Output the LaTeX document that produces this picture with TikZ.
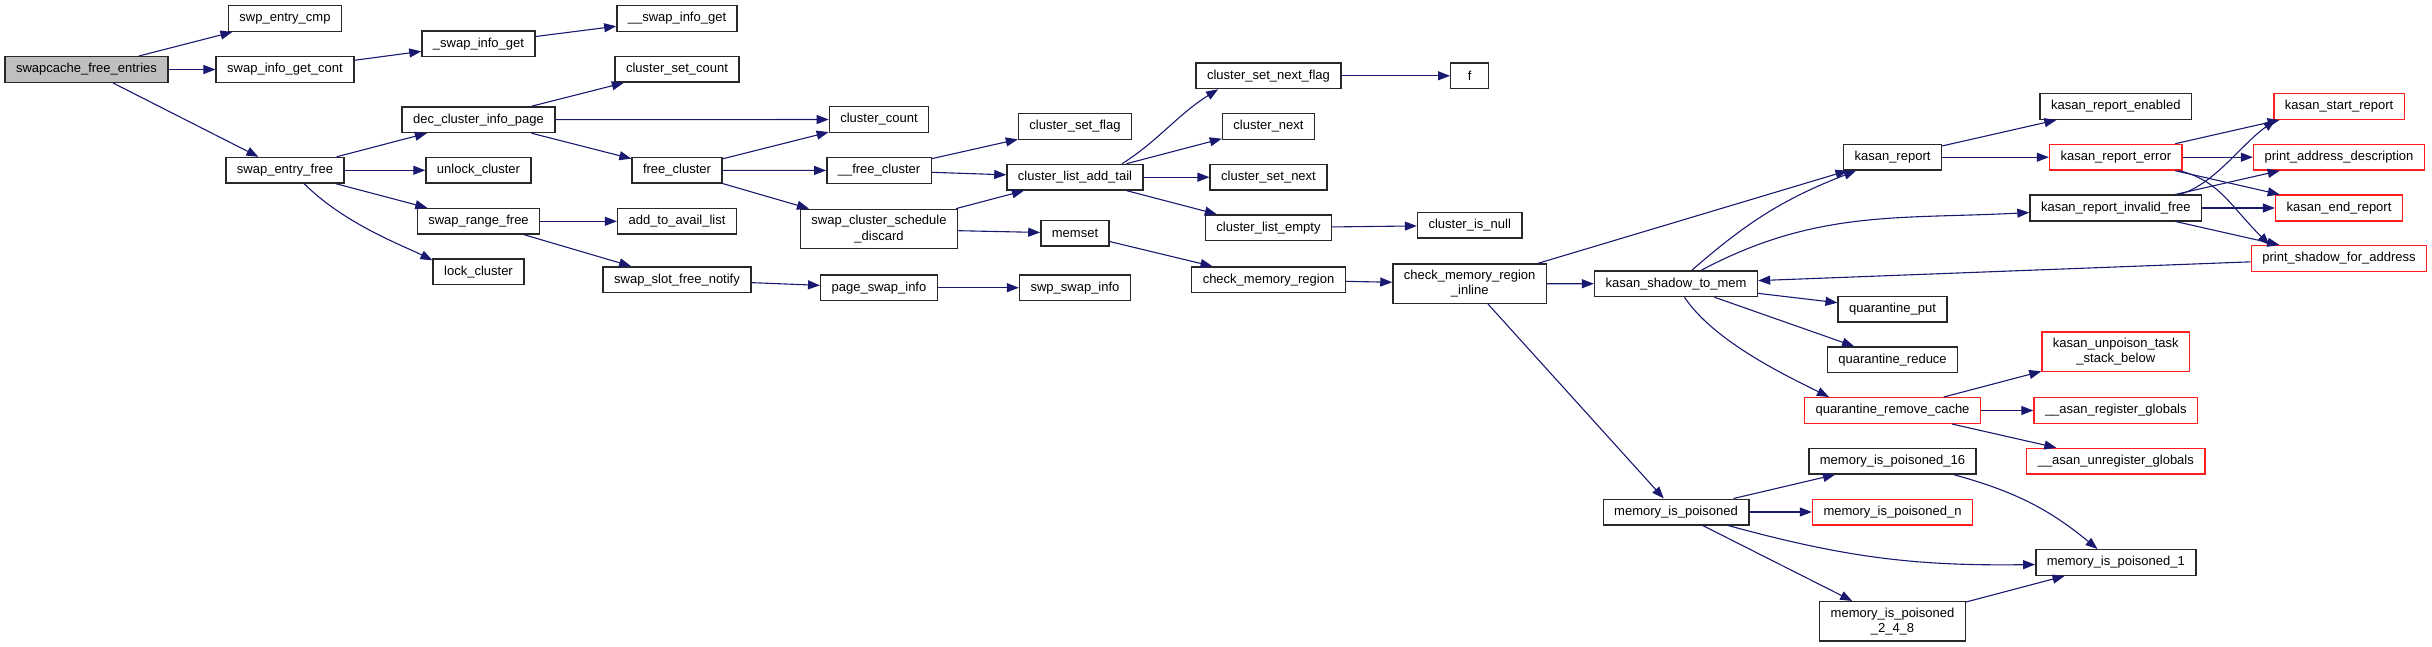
\documentclass[tikz,border=0pt]{standalone}
\usepackage{fontspec}
\setmainfont{Liberation Sans}
\usetikzlibrary{arrows.meta}
\definecolor{midblue}{RGB}{25,25,112}
\definecolor{boxline}{RGB}{40,40,40}
\definecolor{hotred}{RGB}{255,30,30}
\definecolor{rootgray}{RGB}{191,191,191}

\begin{document}
\begin{tikzpicture}[x=1pt,y=1pt,font=\fontsize{13}{15.3}\selectfont,>={Triangle[length=12pt,width=9pt]},
    fn/.style={draw=boxline,line width=1.4pt,fill=white,minimum height=25.6pt,minimum width=38pt,
      inner xsep=11pt,inner ysep=6pt,align=center},
    hot/.style={fn,draw=hotred},
    root/.style={fn,fill=rootgray},
    call/.style={->,midblue,line width=1.1pt}]
            \useasboundingbox (0,0) rectangle (2432,-647);
            \node[root] (root) at (86.5,-69.5) {swapcache\_free\_entries};
            \node[fn] (entrycmp) at (285,-18.5) {swp\_entry\_cmp};
            \node[fn] (infocont) at (285,-69.5) {swap\_info\_get\_cont};
            \node[fn] (entryfree) at (285,-170.3) {swap\_entry\_free};
            \node[fn] (infoget) at (478.5,-43.8) {\_swap\_info\_get};
            \node[fn] (decinfo) at (478.5,-119.7) {dec\_cluster\_info\_page};
            \node[fn] (unlock) at (478.5,-170.3) {unlock\_cluster};
            \node[fn] (rangefree) at (478.5,-221.3) {swap\_range\_free};
            \node[fn] (lock) at (478.5,-271.8) {lock\_cluster};
            \node[fn] (infoget2) at (677,-18.5) {\_\_swap\_info\_get};
            \node[fn] (setcount) at (677,-69.3) {cluster\_set\_count};
            \node[fn] (freecl) at (677,-170.3) {free\_cluster};
            \node[fn] (availlist) at (677,-221.3) {add\_to\_avail\_list};
            \node[fn] (slotnotify) at (677,-279.7) {swap\_slot\_free\_notify};
            \node[fn] (count) at (879,-119.5) {cluster\_count};
            \node[fn] (freecl2) at (879,-170.5) {\_\_free\_cluster};
            \node[fn] (discard) at (879,-229) {swap\_cluster\_schedule\\\_discard};
            \node[fn] (pageinfo) at (879,-287.7) {page\_swap\_info};
            \node[fn] (setflag) at (1075,-126.5) {cluster\_set\_flag};
            \node[fn] (addtail) at (1075,-177.2) {cluster\_list\_add\_tail};
            \node[fn] (memset) at (1075,-233.2) {memset};
            \node[fn] (swapinfo) at (1075,-287.7) {swp\_swap\_info};
            \node[fn] (nextflag) at (1268.5,-75.8) {cluster\_set\_next\_flag};
            \node[fn] (next) at (1268.5,-126.5) {cluster\_next};
            \node[fn] (setnext) at (1268.5,-177.2) {cluster\_set\_next};
            \node[fn] (empty) at (1268.5,-227.7) {cluster\_list\_empty};
            \node[fn] (cmr) at (1268.5,-279.8) {check\_memory\_region};
            \node[fn] (fnode) at (1469.7,-75.8) {f};
            \node[fn] (isnull) at (1469.7,-225.3) {cluster\_is\_null};
            \node[fn] (cmri) at (1469.7,-283.8) {check\_memory\_region\\\_inline};
            \node[fn] (shadow) at (1676,-283.7) {kasan\_shadow\_to\_mem};
            \node[fn] (mip) at (1676,-512) {memory\_is\_poisoned};
            \node[fn] (report) at (1892.5,-157.2) {kasan\_report};
            \node[fn] (qput) at (1892.5,-309.2) {quarantine\_put};
            \node[fn] (qreduce) at (1892.5,-359.8) {quarantine\_reduce};
            \node[hot] (qremove) at (1892.5,-410.5) {quarantine\_remove\_cache};
            \node[fn] (mip16) at (1892.5,-461.2) {memory\_is\_poisoned\_16};
            \node[hot] (mipn) at (1892.5,-512) {memory\_is\_poisoned\_n};
            \node[fn] (mip248) at (1892.5,-621.3) {memory\_is\_poisoned\\\_2\_4\_8};
            \node[fn] (enabled) at (2115.8,-106.5) {kasan\_report\_enabled};
            \node[hot] (reperr) at (2115.8,-157.2) {kasan\_report\_error};
            \node[fn] (invfree) at (2115.8,-208) {kasan\_report\_invalid\_free};
            \node[hot] (unpoison) at (2115.8,-351.8) {kasan\_unpoison\_task\\\_stack\_below};
            \node[hot] (reg) at (2115.8,-410.5) {\_\_asan\_register\_globals};
            \node[hot] (unreg) at (2115.8,-461.2) {\_\_asan\_unregister\_globals};
            \node[fn] (mip1) at (2115.8,-562.5) {memory\_is\_poisoned\_1};
            \node[hot] (start) at (2339,-106.5) {kasan\_start\_report};
            \node[hot] (addrdesc) at (2339,-157.2) {print\_address\_description};
            \node[hot] (endrep) at (2339,-208) {kasan\_end\_report};
            \node[hot] (printshadow) at (2339,-258.5) {print\_shadow\_for\_address};
            \foreach \a/\b in {root/entrycmp,root/infocont,root/entryfree,infocont/infoget,infoget/infoget2,
                entryfree/decinfo,entryfree/unlock,entryfree/rangefree,decinfo/setcount,decinfo/count,
                decinfo/freecl,freecl/count,freecl/freecl2,freecl/discard,rangefree/availlist,
                rangefree/slotnotify,slotnotify/pageinfo,pageinfo/swapinfo,freecl2/setflag,freecl2/addtail,
                discard/addtail,discard/memset,addtail/next,addtail/setnext,addtail/empty,nextflag/fnode,
                empty/isnull,memset/cmr,cmr/cmri,cmri/report,cmri/shadow,cmri/mip,shadow/qput,shadow/qreduce,
                printshadow/shadow,report/enabled,report/reperr,reperr/start,reperr/addrdesc,reperr/endrep,
                invfree/addrdesc,invfree/endrep,invfree/printshadow,qremove/unpoison,qremove/reg,qremove/unreg,
                mip/mip16,mip/mipn,mip/mip248,mip248/mip1}
              \draw[call] (\a) -- (\b);
            \draw[call] (entryfree.-35) .. controls +(40,-40) and +(-30,15) .. (lock.166);
            \draw[call] (addtail.16) .. controls +(35,22) and +(-40,-25) .. (nextflag.-165);
            \draw[call] (shadow) to[bend left=10] (report);
            \draw[call] (shadow) to[out=28,in=183] (invfree);
            \draw[call] (shadow.-58) .. controls +(30,-45) and +(-40,20) .. (qremove.168);
            \draw[call] (reperr.-12) .. controls +(40,-10) and +(-40,40) .. (printshadow.169);
            \draw[call] (invfree.12) .. controls +(35,10) and +(-35,-25) .. (start.192);
            \draw[call] (mip) to[bend right=8] (mip1);
            \draw[call] (mip16) to[bend left=12] (mip1);
        \end{tikzpicture}
\end{document}
